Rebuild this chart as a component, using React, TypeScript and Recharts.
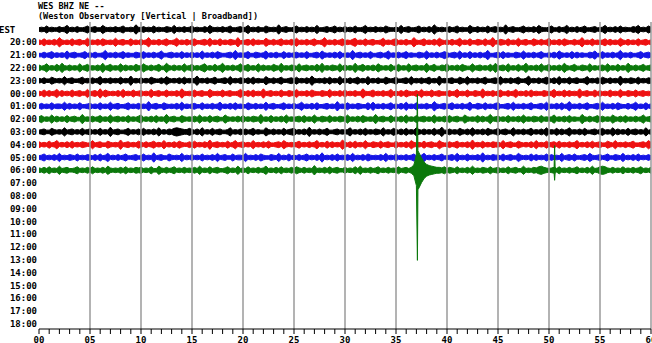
import { ComposedChart, Area, XAxis, YAxis, ReferenceLine } from 'recharts';

// helicorder rows, top to bottom (first row is labelled with the time zone)
const hourLabels = [
  'EST', '20:00', '21:00', '22:00', '23:00', '00:00', '01:00', '02:00',
  '03:00', '04:00', '05:00', '06:00', '07:00', '08:00', '09:00', '10:00',
  '11:00', '12:00', '13:00', '14:00', '15:00', '16:00', '17:00', '18:00',
];

const traceColors = ['#000000', '#ee1111', '#1515e6', '#0b780b'];

const gridMinutes = [5, 10, 15, 20, 25, 30, 35, 40, 45, 50, 55, 60];

// minutes between envelope samples
const STEP = 0.25;
// trace gain: rows per count
const GAIN = 0.046;

// envelope half-amplitude (counts) every quarter minute, one list per recorded hour
const amp19 = [
  3,4,3,6,3,4,3,3,5,3,4,7,3,4,3,5,3,3,4,6,
  3,4,5,3,3,7,4,3,4,3,5,3,4,6,3,3,4,3,8,4,
  3,5,3,4,3,6,3,4,3,3,5,4,3,7,3,4,3,5,3,4,
  6,3,4,3,3,5,3,7,4,3,4,3,5,3,4,6,3,3,4,5,
  3,4,7,3,4,3,5,3,3,6,4,3,4,3,8,3,4,5,3,3,
  4,6,3,4,3,5,3,4,3,7,3,3,4,5,3,4,6,3,4,3,
  5,3,4,3,6,3,3,4,7,3,4,3,5,3,4,3,6,4,3,3,
  4,3,7,3,4,5,3,3,4,6,3,4,3,5,3,8,4,3,4,3,
  3,5,3,4,6,3,4,3,3,7,4,3,5,3,4,3,6,3,4,5,
  3,4,3,8,3,4,5,3,3,4,6,3,4,3,5,3,7,4,3,3,
  4,6,3,3,5,3,4,7,3,4,3,5,3,4,6,3,3,4,5,3,
  3,4,7,3,4,3,5,3,6,3,4,3,3,5,4,7,3,4,3,6,
  4,
];
const amp20 = [
  4,3,6,3,4,3,5,3,8,4,3,4,3,6,3,4,5,3,3,7,
  3,4,3,5,3,6,4,3,4,3,7,3,4,5,3,3,6,3,4,3,
  5,3,4,8,3,4,3,5,3,4,6,3,3,4,7,3,4,3,5,3,
  4,6,3,3,4,5,3,7,3,4,3,6,3,4,3,5,4,3,8,3,
  3,4,5,3,6,3,4,3,3,7,4,3,5,3,4,6,3,4,3,5,
  3,7,3,4,3,5,3,4,6,3,3,4,8,3,4,3,5,3,4,6,
  3,4,3,5,7,3,4,3,6,3,4,5,3,3,4,7,3,4,3,5,
  6,3,4,3,5,3,3,8,4,3,4,6,3,4,3,5,3,7,4,3,
  4,3,5,3,4,7,3,4,3,6,3,3,5,4,3,6,3,4,8,3,
  3,5,4,3,6,3,4,3,7,3,4,5,3,3,6,4,3,5,3,4,
  7,3,4,3,5,3,6,4,3,3,5,3,4,8,3,4,3,6,3,4,
  3,4,6,3,5,3,4,3,7,4,3,5,3,4,3,6,3,4,5,3,
  4,
];
const amp21 = [
  3,3,5,3,4,6,3,4,3,4,3,7,3,4,5,3,3,4,6,3,
  4,3,5,3,3,4,8,3,4,3,5,3,4,6,3,4,3,3,5,4,
  3,6,3,4,3,5,3,4,7,3,3,4,5,3,4,3,6,3,4,3,
  5,3,4,3,7,3,4,3,5,3,6,4,3,3,4,5,3,8,3,4,
  3,4,6,3,3,5,4,3,4,7,3,4,3,5,3,3,6,3,4,3,
  4,5,3,4,3,6,3,3,4,5,3,7,4,3,4,3,5,3,6,3,
  3,4,3,8,3,4,5,3,4,3,6,3,3,4,5,3,4,7,3,4,
  3,5,3,4,6,3,4,3,3,5,4,3,7,3,4,3,5,3,4,6,
  4,3,4,5,3,7,3,4,3,6,3,4,3,5,3,4,8,3,3,4,
  5,3,6,3,4,3,3,5,4,3,7,3,4,3,5,3,4,6,3,3,
  4,3,5,3,7,4,3,4,3,6,3,5,3,4,3,3,5,4,7,3,
  3,6,3,4,3,5,3,4,8,3,4,3,5,3,3,4,6,3,4,5,
  3,
];
const amp22 = [
  5,3,4,7,3,4,3,6,3,8,4,3,5,3,4,3,7,3,4,6,
  3,4,3,5,3,8,3,4,6,3,4,3,7,3,5,3,4,3,6,4,
  3,7,4,3,5,3,4,6,3,3,8,4,3,5,3,4,3,7,3,4,
  6,3,4,3,5,7,3,4,3,6,3,4,8,3,4,3,5,3,4,7,
  3,4,6,3,4,3,7,3,5,3,4,3,6,4,3,8,3,4,3,5,
  4,3,7,3,4,5,3,4,3,6,3,8,3,4,3,5,4,3,7,3,
  5,3,4,3,8,3,4,6,3,4,3,5,3,7,4,3,4,3,6,3,
  3,6,3,4,3,7,3,4,5,3,4,3,8,3,4,6,3,3,5,4,
  7,3,4,3,5,3,6,4,3,3,7,3,4,5,3,4,3,6,3,8,
  3,4,5,3,7,3,4,3,6,3,4,8,3,4,3,5,3,7,3,4,
  6,3,4,3,5,3,8,4,3,4,6,3,3,5,4,3,7,3,4,3,
  4,5,3,7,3,4,3,6,3,4,3,8,4,3,5,3,4,6,3,4,
  5,
];
const amp23 = [
  4,3,5,3,3,6,4,3,4,3,7,3,4,5,3,3,4,6,3,4,
  3,5,3,4,7,3,4,3,5,3,4,3,6,3,4,3,8,3,4,3,
  5,3,4,3,6,4,3,3,5,3,7,4,3,4,3,5,3,6,3,4,
  3,4,8,3,4,3,5,3,4,6,3,3,4,5,3,7,3,4,3,5,
  4,3,5,3,6,3,4,3,3,7,4,3,5,3,4,6,3,3,4,5,
  3,6,3,4,3,5,3,8,4,3,4,3,5,3,6,3,4,3,7,3,
  4,3,5,3,4,6,3,4,3,7,3,4,3,5,3,3,6,4,3,4,
  6,3,3,4,5,3,7,3,4,3,5,3,4,6,3,4,3,8,3,4,
  3,4,5,3,3,6,4,3,7,3,4,3,5,3,4,6,3,3,4,5,
  3,7,3,4,3,5,3,4,6,3,3,4,8,3,4,3,5,3,4,6,
  4,3,5,3,7,3,4,3,6,3,4,5,3,3,4,7,3,4,3,5,
  3,6,4,3,5,3,4,3,8,3,4,3,5,4,3,6,3,4,3,5,
  4,
];
const amp00 = [
  4,3,6,3,5,3,4,7,3,5,3,4,3,6,3,4,5,3,3,7,
  3,4,5,3,8,3,6,4,3,4,3,5,3,7,3,4,3,6,3,4,
  5,3,4,3,7,3,4,5,3,3,6,3,4,3,5,3,8,4,3,4,
  3,6,3,4,5,3,3,7,4,3,4,3,6,3,4,5,3,3,4,7,
  4,3,5,3,6,3,4,3,8,3,4,5,3,4,3,6,3,3,5,4,
  3,7,3,4,3,5,3,6,4,3,3,5,4,3,7,3,4,3,5,3,
  6,3,4,3,5,3,3,8,4,3,4,6,3,4,3,5,3,4,7,3,
  4,3,5,3,6,4,3,3,5,3,7,3,4,3,6,3,4,5,3,3,
  3,5,3,4,7,3,4,3,6,3,3,5,4,3,8,3,4,3,5,3,
  4,6,3,3,5,3,4,7,3,4,3,5,3,6,3,4,3,3,5,4,
  3,4,7,3,4,3,6,3,5,3,4,3,8,3,4,5,3,3,6,3,
  5,3,4,3,6,3,4,3,7,3,3,5,4,3,6,3,4,5,3,4,
  3,
];
const amp01 = [
  3,5,3,4,3,6,3,4,4,3,7,3,5,3,4,3,6,3,3,4,
  5,3,4,3,6,3,4,3,7,3,4,5,3,3,4,6,3,4,3,5,
  3,4,3,8,3,4,5,3,3,6,4,3,4,3,5,3,7,3,4,3,
  4,5,3,3,6,3,4,3,5,3,4,7,3,4,3,5,3,6,3,4,
  3,3,6,4,3,5,3,4,3,7,3,4,5,3,3,4,6,3,4,3,
  5,3,4,7,3,4,3,5,3,6,3,3,4,5,3,4,3,8,3,4,
  3,6,3,4,3,5,4,3,3,6,3,7,3,4,3,5,3,4,6,3,
  4,3,5,3,7,3,4,3,6,3,4,3,5,3,3,8,4,3,4,5,
  3,4,6,3,4,3,5,3,4,7,3,3,5,4,3,6,3,4,3,5,
  6,3,3,4,5,3,7,3,4,3,5,3,4,6,3,3,4,5,3,7,
  3,4,3,5,3,6,3,4,8,3,4,3,5,3,4,6,3,3,4,5,
  3,7,3,4,3,5,3,6,4,3,3,5,3,4,7,3,4,3,6,3,
  4,
];
const amp02 = [
  4,6,3,4,3,7,3,5,3,4,3,6,3,4,5,3,3,8,3,4,
  3,5,3,4,6,3,4,3,7,3,4,5,3,4,3,6,3,4,3,5,
  7,3,4,3,5,3,6,3,4,3,8,3,4,5,3,3,6,4,3,4,
  3,5,3,7,3,4,3,6,3,4,5,3,3,7,4,3,4,3,5,3,
  6,3,4,3,5,4,3,8,3,4,3,6,3,4,3,5,3,7,3,4,
  3,4,5,3,6,3,4,3,7,3,3,5,4,3,6,3,4,3,5,4,
  3,7,3,4,3,5,3,6,4,3,4,3,8,3,4,5,3,3,6,3,
  4,3,5,3,7,3,4,3,6,3,4,5,3,4,3,7,3,4,3,5,
  3,6,3,4,5,3,3,7,4,3,4,3,6,3,5,3,4,8,3,4,
  5,3,4,3,6,3,4,3,5,3,7,3,4,3,5,4,3,6,3,4,
  3,4,7,3,4,3,5,3,6,3,4,3,3,8,4,3,5,3,4,6,
  3,5,3,4,3,7,4,3,5,3,6,3,4,3,5,3,4,7,3,4,
  5,
];
const amp03 = [
  3,4,5,3,3,6,4,3,4,3,7,3,4,5,3,4,3,6,3,4,
  5,3,4,3,6,3,4,3,8,3,4,5,3,3,4,6,3,4,3,5,
  3,6,3,4,3,5,3,7,3,4,3,5,4,6,7,6,5,4,4,6,
  4,3,5,3,7,3,4,3,6,3,4,5,3,3,4,7,3,4,3,5,
  3,5,3,4,6,3,4,3,3,7,4,3,5,3,4,3,6,3,4,5,
  6,3,4,3,5,3,8,3,4,3,5,3,4,6,3,3,4,5,3,4,
  3,4,7,3,4,3,5,3,6,3,4,3,5,4,3,7,3,4,3,6,
  4,3,5,3,6,3,4,3,7,4,3,5,3,4,3,6,3,4,8,3,
  3,5,3,4,3,6,4,3,5,3,7,3,4,3,5,3,6,4,3,4,
  6,3,4,5,3,3,7,3,4,3,5,3,4,6,3,4,3,5,3,7,
  3,4,3,6,3,5,3,4,7,3,4,3,5,3,6,3,3,4,5,3,
  4,6,3,4,3,7,3,5,3,4,3,6,3,4,5,3,4,3,7,3,
  4,
];
const amp04 = [
  5,3,4,3,6,3,4,7,3,4,3,5,3,6,3,4,3,5,4,3,
  3,7,3,4,5,3,3,6,4,3,4,3,8,3,4,5,3,4,3,6,
  4,3,5,3,4,6,3,4,3,7,3,4,3,5,3,6,4,3,3,5,
  3,6,3,4,3,5,3,8,3,4,5,3,4,3,6,3,4,7,3,4,
  5,3,4,3,7,3,4,3,5,3,6,3,3,4,5,3,7,4,3,4,
  3,4,6,3,4,3,5,3,4,7,3,4,3,6,3,5,3,4,3,8,
  4,3,5,3,6,3,4,3,7,3,3,5,4,3,6,3,4,5,3,3,
  6,3,4,3,5,3,7,4,3,4,3,6,3,4,5,3,3,7,4,3,
  3,5,3,4,6,3,4,3,5,3,8,3,4,3,6,3,4,3,5,4,
  4,3,7,3,4,5,3,3,6,4,3,4,3,5,3,7,3,4,3,6,
  3,4,5,3,6,3,4,3,5,3,4,7,3,4,3,5,3,6,3,4,
  5,3,3,6,4,3,7,3,4,3,5,3,4,6,3,3,4,5,3,7,
  4,
];
const amp05 = [
  3,4,6,3,4,3,5,3,7,3,4,3,5,4,3,6,3,4,3,5,
  4,3,5,3,6,3,4,7,3,4,3,5,3,4,6,3,3,4,5,3,
  3,6,3,4,3,8,3,4,5,3,3,6,4,3,4,3,7,3,4,3,
  5,3,4,3,6,3,4,3,5,3,7,3,4,5,3,3,6,3,4,4,
  3,7,3,4,3,5,3,6,4,3,3,5,4,3,7,3,4,3,6,3,
  4,3,5,3,4,6,3,4,3,5,3,8,3,4,3,5,3,6,3,4,
  3,5,3,7,3,4,3,5,3,6,4,3,4,3,5,3,7,3,4,3,
  6,3,4,3,5,3,4,6,3,3,4,7,3,4,3,5,3,4,6,3,
  3,4,5,3,7,3,4,3,6,3,4,3,5,3,8,3,4,3,5,4,
  4,3,6,3,4,5,3,3,7,4,3,4,3,6,3,5,3,4,3,6,
  3,5,3,4,3,7,3,4,5,3,6,3,3,4,5,3,7,4,3,4,
  5,3,4,6,3,3,5,4,3,7,3,4,3,5,3,6,3,4,3,5,
  3,
];
const amp06 = [
  4,3,5,3,6,3,4,3,7,3,4,5,3,3,4,6,3,4,3,5,
  3,6,3,4,3,5,3,7,4,3,4,3,5,3,6,3,4,3,5,4,
  5,3,4,3,6,3,3,7,4,3,5,3,4,6,3,4,3,5,3,4,
  3,5,3,7,3,4,3,6,3,4,5,3,3,4,6,3,4,3,7,3,
  4,3,6,3,4,3,5,3,4,7,3,4,3,5,3,6,3,4,3,5,
  3,6,4,3,5,3,4,3,8,3,4,3,5,3,6,3,4,5,3,3,
  5,3,4,3,6,3,7,3,4,3,5,3,4,6,3,4,3,5,3,4,
  3,6,3,4,5,3,5,9,26,30,21,14,10,8,7,6,5,5,4,6,
  3,5,4,3,6,3,4,3,5,3,7,3,4,3,5,4,3,6,3,4,
  5,3,4,3,6,3,4,5,3,3,7,3,4,3,5,4,6,7,5,4,
  3,4,5,3,6,3,4,3,5,3,4,6,3,4,3,5,3,7,3,4,
  6,7,6,4,3,5,3,4,3,6,3,4,3,5,3,4,6,3,4,3,
  5,
];

const rowAmps = [amp19, amp20, amp21, amp22, amp23, amp00, amp01, amp02, amp03, amp04, amp05, amp06];

// short arrivals (row index, minute, counts up, counts down)
const events = [
  { row: 11, minute: 37.1, up: 129, down: 153 },
  { row: 11, minute: 37.15, up: 33, down: 33 },
  { row: 11, minute: 50.55, up: 42, down: 17 },
  { row: 11, minute: 50.6, up: 5, down: 5 },
];

const FONT = '"DejaVu Sans Mono", "Liberation Mono", monospace';

function buildRow(r: number) {
  const pts = rowAmps[r].map((a, i) => ({ m: i * STEP, up: a, down: a }));
  events.filter((e) => e.row === r).forEach((e) => pts.push({ m: e.minute, up: e.up, down: e.down }));
  pts.sort((a, b) => a.m - b.m);
  return pts.map((p) => ({ m: p.m, band: [r - p.up * GAIN, r + p.down * GAIN] }));
}

const rowData = rowAmps.map((_, r) => buildRow(r));
const rowTicks = hourLabels.map((_, i) => i);
const minuteTicks = Array.from({ length: 61 }, (_, i) => i);

function HourTick(props: any) {
  const { x, y, payload } = props;
  const first = payload.value === 0;
  return (
    <text
      x={first ? -1 : x}
      y={y}
      dy={3.2}
      textAnchor={first ? 'start' : 'end'}
      fontFamily={FONT}
      fontSize={9}
      fontWeight="bold"
      fill="#000"
    >
      {hourLabels[payload.value]}
    </text>
  );
}

export default function App() {
  return (
    <div style={{ position: 'absolute', left: 0, top: 0, width: 652, height: 343, background: '#fff', overflow: 'hidden' }}>
      <div style={{ position: 'absolute', left: 38, top: 1, fontFamily: FONT, fontSize: 8.5, fontWeight: 'bold', lineHeight: '10px', whiteSpace: 'pre' }}>
        WES BHZ NE --
        <br />
        (Weston Observatory [Vertical | Broadband])
      </div>
      <ComposedChart width={652} height={343} margin={{ top: 22, right: 1, bottom: 0, left: 0 }}>
        <XAxis
          type="number"
          dataKey="m"
          domain={[0, 60]}
          allowDataOverflow
          ticks={minuteTicks}
          interval={0}
          tickFormatter={(v: number) => (v % 5 === 0 ? String(v).padStart(2, '0') : '')}
          tickSize={5}
          tickMargin={3}
          height={14}
          stroke="#000"
          tick={{ fontFamily: FONT, fontSize: 9, fontWeight: 'bold', fill: '#000' }}
        />
        <YAxis
          type="number"
          domain={[-0.586, 23.4]}
          allowDataOverflow
          reversed
          ticks={rowTicks}
          interval={0}
          width={39}
          axisLine={false}
          tickLine={false}
          tickSize={0}
          tickMargin={2}
          tick={<HourTick />}
        />
        {gridMinutes.map((m) => (
          <ReferenceLine key={m} x={m} stroke="#9a9a9a" strokeWidth={1.5} />
        ))}
        {rowData.map((d, r) => (
          <Area
            key={r}
            data={d}
            dataKey="band"
            type="linear"
            stroke={traceColors[r % 4]}
            strokeWidth={1}
            fill={traceColors[r % 4]}
            fillOpacity={1}
            dot={false}
            activeDot={false}
            isAnimationActive={false}
          />
        ))}
      </ComposedChart>
    </div>
  );
}
